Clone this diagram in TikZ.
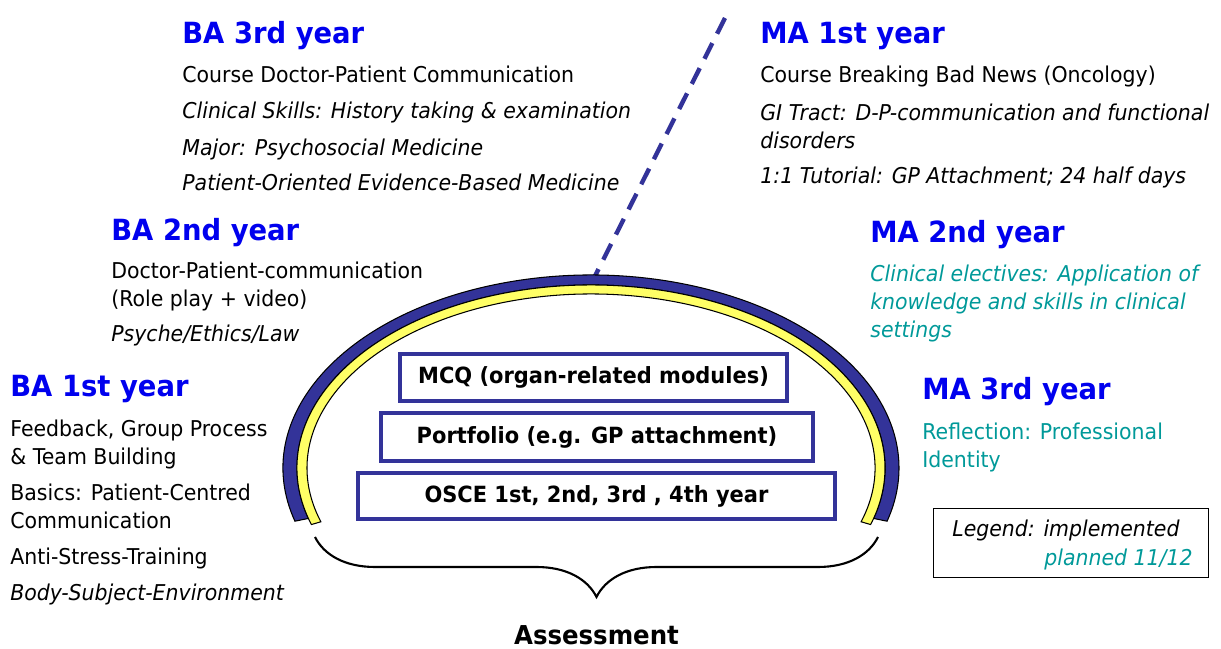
\documentclass[tikz,border=0pt]{standalone}
\usepackage{fontspec}
\setmainfont[FakeStretch=0.94]{DejaVu Sans}
\usepackage{tikz}
\usetikzlibrary{positioning, calc, fit, decorations.pathreplacing}
\definecolor{headblue}{RGB}{0,0,238}
\definecolor{archnavy}{RGB}{51,51,153}
\definecolor{archyellow}{RGB}{255,255,102}
\definecolor{plannedteal}{RGB}{0,153,153}
\newcommand{\bodyfont}{\fontsize{12.4}{15.9}\selectfont}
\tikzset{
  yearhead/.style={anchor=base west, inner sep=0pt, text=headblue, font=\fontsize{16.6}{20}\selectfont\bfseries},
  itemtxt/.style={anchor=base west, inner sep=0pt, align=left, font=\bodyfont},
  itemit/.style={itemtxt, font=\bodyfont\itshape},
  planned/.style={itemtxt, text=plannedteal},
  assessbox/.style={draw=archnavy, line width=2.3pt, fill=white, inner sep=0pt, font=\fontsize{12.7}{15}\selectfont\bfseries}
}

\begin{document}
\begin{tikzpicture}[x=0.02cm, y=-0.02cm]
\useasboundingbox (0,0) rectangle (1221,649);

% multi-line nodes sit on the baseline of their last line
\node[yearhead] (ba3) at (182,43) {BA 3rd year};
\node[itemtxt] (ba3a) at (182,82) {Course Doctor-Patient Communication};
\node[itemit] (ba3b) at (182,118) {Clinical Skills: History taking \& examination};
\node[itemit] (ba3c) at (182,155) {Major: Psychosocial Medicine};
\node[itemit] (ba3d) at (182,190) {Patient-Oriented Evidence-Based Medicine};

\node[yearhead] (ba2) at (111,240) {BA 2nd year};
\node[itemtxt] (ba2a) at (111,306) {Doctor-Patient-communication\\(Role play + video)};
\node[itemit] (ba2b) at (111,341) {Psyche/Ethics/Law};

\node[yearhead] (ba1) at (10,396) {BA 1st year};
\node[itemtxt] (ba1a) at (10,464) {Feedback, Group Process\\\& Team Building};
\node[itemtxt] (ba1b) at (10,528) {Basics: Patient-Centred\\Communication};
\node[itemtxt] (ba1c) at (10,564) {Anti-Stress-Training};
\node[itemit] (ba1d) at (10,600) {Body-Subject-Environment};

\node[yearhead] (ma1) at (760,43) {MA 1st year};
\node[itemtxt] (ma1a) at (760,82) {Course Breaking Bad News (Oncology)};
\node[itemit] (ma1b) at (760,148) {GI Tract: D-P-communication and functional\\disorders};
\node[itemit] (ma1c) at (760,183) {1:1 Tutorial: GP Attachment; 24 half days};

\node[yearhead] (ma2) at (870,242) {MA 2nd year};
\node[planned, font=\bodyfont\itshape] (ma2a) at (870,337) {Clinical electives: Application of\\knowledge and skills in clinical\\settings};

\node[yearhead] (ma3) at (922,399) {MA 3rd year};
\node[planned] (ma3a) at (922,467) {Reflection: Professional\\Identity};

% legend
\node[draw, line width=0.8pt, minimum width=5.5cm, minimum height=1.38cm, inner sep=0pt] (legend) at (1071,543) {};
\node[itemit, anchor=base west] (legimp) at (952,536) {Legend: implemented};
\node[itemit, anchor=base east, text=plannedteal] (legplan) at (1193,565) {planned 11/12};

% arch
\coordinate (archc) at (591,468);
\coordinate (archtop) at (590,286);
\coordinate (dashend) at (725,18);
\draw[archnavy, line width=2.5pt, dash pattern=on 10pt off 6pt] (dashend) -- (archtop);

\fill[archnavy, draw=black, line width=0.6pt] ($(archc)+(164:308 and 193)$) arc[start angle=164, end angle=376, x radius=308, y radius=193] -- ($(archc)+(376:294 and 183)$) arc[start angle=376, end angle=164, x radius=294, y radius=183] -- cycle;
\fill[archyellow, draw=black, line width=0.6pt] ($(archc)+(162:294 and 183)$) arc[start angle=162, end angle=378, x radius=294, y radius=183] -- ($(archc)+(378:284 and 174)$) arc[start angle=378, end angle=162, x radius=284, y radius=174] -- cycle;

\node[assessbox, minimum width=7.74cm, minimum height=0.94cm] (mcq) at (593.5,377.5) {MCQ (organ-related modules)};
\node[assessbox, minimum width=8.64cm, minimum height=0.96cm] (portfolio) at (597,437) {Portfolio (e.g. GP attachment)};
\node[assessbox, minimum width=9.54cm, minimum height=0.92cm] (osce) at (596.5,496) {OSCE 1st, 2nd, 3rd , 4th year};

% brace
\coordinate (brleft) at (315,537);
\coordinate (brright) at (878,537);
\draw[line width=1.2pt, decorate, decoration={brace, amplitude=1.2cm}] (brright) -- (brleft);
\node[anchor=base, inner sep=0pt, font=\fontsize{14.8}{17}\selectfont\bfseries] (assess) at (596.5,644) {Assessment};
\end{tikzpicture}
\end{document}
